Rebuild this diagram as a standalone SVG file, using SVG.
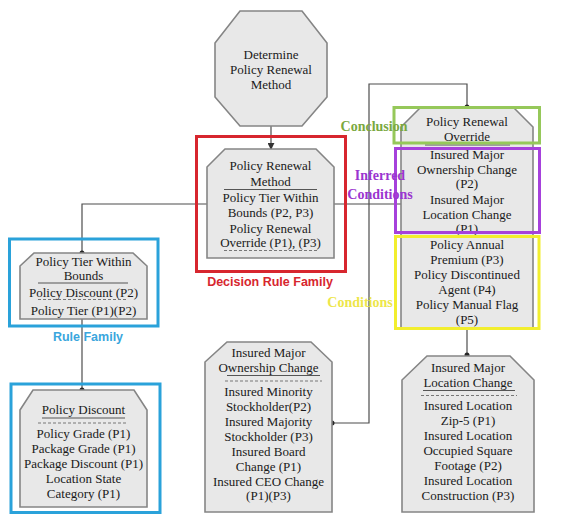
<svg xmlns="http://www.w3.org/2000/svg" width="563" height="516" viewBox="0 0 563 516">
<style>
.node{fill:#e8e8e8;stroke:#858585;stroke-width:1.6}
.t{font-family:"Liberation Serif",serif;font-size:13px;fill:#1a1a1a;text-anchor:middle}
.ul{stroke:#555;stroke-width:1.2}
.dash{stroke:#777;stroke-width:1;stroke-dasharray:3,2}
.conn{fill:none;stroke:#4d4d4d;stroke-width:1.2}
.dot{fill:#262626}
.lab{font-family:"Liberation Serif",serif;font-size:14px;font-weight:bold;text-anchor:middle}
.sans{font-family:"Liberation Sans",Arial,sans-serif;font-size:12.5px;font-weight:bold;text-anchor:middle}
.hl{fill:none;stroke-width:3}
</style>
<defs>
<marker id="arr" viewBox="0 0 8 8" refX="7" refY="4" markerWidth="7" markerHeight="7" orient="auto" markerUnits="userSpaceOnUse">
<path d="M0,0 L8,4 L0,8 z" fill="#333"/>
</marker>
</defs>
<rect width="563" height="516" fill="#ffffff"/>

<g id="connectors">
<line class="conn" x1="271" y1="126" x2="271" y2="149" marker-end="url(#arr)"/>
<polyline class="conn" points="207,204 82,204 82,253"/>
<line class="conn" x1="82" y1="319" x2="82" y2="390"/>
<line class="conn" x1="334" y1="204" x2="401" y2="204"/>
<polyline class="conn" points="467,107 467,84 369,84 369,423 332,423"/>
<line class="conn" x1="467" y1="328" x2="467" y2="356"/>
<circle class="dot" cx="82" cy="253" r="2.5"/>
<circle class="dot" cx="82" cy="390" r="2.5"/>
<circle class="dot" cx="467" cy="107" r="2.5"/>
<circle class="dot" cx="332" cy="423" r="2.5"/>
<circle class="dot" cx="467" cy="355" r="2.5"/>
</g>

<g id="n-determine">
<polygon class="node" points="240,11 302,11 327,43 327,97 302,126 240,126 215,97 215,43"/>
<text class="t" x="271" y="59">Determine</text>
<text class="t" x="271" y="74">Policy Renewal</text>
<text class="t" x="271" y="89">Method</text>
</g>

<g id="n-policy-renewal-method">
<polygon class="node" points="207,167 225,149 316,149 334,167 334,258 207,258"/>
<text class="t" x="270.5" y="170">Policy Renewal</text>
<text class="t" x="270.5" y="186">Method</text>
<line class="ul" x1="224" y1="189.5" x2="317" y2="189.5"/>
<text class="t" x="270.5" y="202">Policy Tier Within</text>
<text class="t" x="270.5" y="217">Bounds (P2, P3)</text>
<text class="t" x="270.5" y="233">Policy Renewal</text>
<text class="t" x="270.5" y="247">Override (P1), (P3)</text>
<line class="dash" x1="224" y1="250.5" x2="317" y2="250.5"/>
</g>

<g id="n-policy-tier">
<polygon class="node" points="20,266 34,253 133,253 147,266 147,319 20,319"/>
<text class="t" x="83.5" y="266">Policy Tier Within</text>
<text class="t" x="83.5" y="280">Bounds</text>
<line class="ul" x1="38" y1="283" x2="128" y2="283"/>
<text class="t" x="83.5" y="297">Policy Discount (P2)</text>
<line class="dash" x1="38" y1="299.5" x2="128" y2="299.5"/>
<text class="t" x="83.5" y="315">Policy Tier (P1)(P2)</text>
</g>

<g id="n-policy-discount">
<polygon class="node" points="20,410 33,390 134,390 147,410 147,507 20,507"/>
<text class="t" x="83.5" y="414">Policy Discount</text>
<line class="ul" x1="42" y1="418" x2="125" y2="418"/>
<line class="dash" x1="38" y1="423" x2="128" y2="423"/>
<text class="t" x="83.5" y="438">Policy Grade (P1)</text>
<text class="t" x="83.5" y="453">Package Grade (P1)</text>
<text class="t" x="83.5" y="468">Package Discount (P1)</text>
<text class="t" x="83.5" y="483">Location State</text>
<text class="t" x="83.5" y="498">Category (P1)</text>
</g>

<g id="n-policy-renewal-override">
<polygon class="node" points="401,127 421,107 513,107 533,127 533,328 401,328"/>
<text class="t" x="467" y="126">Policy Renewal</text>
<text class="t" x="467" y="141">Override</text>
<line class="ul" x1="425" y1="145" x2="510" y2="145" stroke-width="1.6"/>
<text class="t" x="467" y="159">Insured Major</text>
<text class="t" x="467" y="174">Ownership Change</text>
<text class="t" x="467" y="188">(P2)</text>
<text class="t" x="467" y="204">Insured Major</text>
<text class="t" x="467" y="219">Location Change</text>
<text class="t" x="467" y="233">(P1)</text>
<text class="t" x="467" y="249">Policy Annual</text>
<text class="t" x="467" y="264">Premium (P3)</text>
<text class="t" x="467" y="279">Policy Discontinued</text>
<text class="t" x="467" y="294">Agent (P4)</text>
<text class="t" x="467" y="309">Policy Manual Flag</text>
<text class="t" x="467" y="324">(P5)</text>
</g>

<g id="n-ownership-change">
<polygon class="node" points="205,362 227,342 311,342 332,362 332,512 205,512"/>
<text class="t" x="268.5" y="357">Insured Major</text>
<text class="t" x="268.5" y="372">Ownership Change</text>
<line class="ul" x1="227" y1="375.5" x2="320" y2="375.5"/>
<line class="dash" x1="225" y1="381" x2="322" y2="381"/>
<text class="t" x="268.5" y="396">Insured Minority</text>
<text class="t" x="268.5" y="411">Stockholder(P2)</text>
<text class="t" x="268.5" y="426">Insured Majority</text>
<text class="t" x="268.5" y="441">Stockholder (P3)</text>
<text class="t" x="268.5" y="456">Insured Board</text>
<text class="t" x="268.5" y="471">Change (P1)</text>
<text class="t" x="268.5" y="486">Insured CEO Change</text>
<text class="t" x="268.5" y="500">(P1)(P3)</text>
</g>

<g id="n-location-change">
<polygon class="node" points="402,380 427,356 510,356 534,380 534,512 402,512"/>
<text class="t" x="468" y="372">Insured Major</text>
<text class="t" x="468" y="387">Location Change</text>
<line class="ul" x1="423" y1="390.5" x2="515" y2="390.5"/>
<line class="dash" x1="421" y1="395.5" x2="517" y2="395.5"/>
<text class="t" x="468" y="410">Insured Location</text>
<text class="t" x="468" y="425">Zip-5 (P1)</text>
<text class="t" x="468" y="440">Insured Location</text>
<text class="t" x="468" y="455">Occupied Square</text>
<text class="t" x="468" y="470">Footage (P2)</text>
<text class="t" x="468" y="485">Insured Location</text>
<text class="t" x="468" y="500">Construction (P3)</text>
</g>

<g id="annotations">
<rect class="hl" x="196.5" y="136.5" width="149" height="135" stroke="#d7262e"/>
<text class="sans" x="270" y="286" fill="#d7262e">Decision Rule Family</text>
<rect class="hl" x="9.5" y="239" width="148.5" height="87" stroke="#2aa2da"/>
<text class="sans" x="88" y="341" fill="#3aa6dd">Rule Family</text>
<rect class="hl" x="11" y="384" width="149" height="128.5" stroke="#2aa2da"/>
<rect class="hl" x="394" y="107.5" width="145.5" height="35.5" stroke="#96c85a" stroke-width="2.5"/>
<text class="lab" x="374" y="131" fill="#7aa83f">Conclusion</text>
<rect class="hl" x="395.5" y="148.5" width="144" height="84" stroke="#a641dc" stroke-width="2.5"/>
<text class="lab" x="380" y="180" fill="#9b35cf">Inferred</text>
<text class="lab" x="380" y="199" fill="#9b35cf">Conditions</text>
<rect class="hl" x="395.5" y="236.5" width="143.5" height="92" stroke="#f2ee2e" stroke-width="2.5"/>
<text class="lab" x="360" y="307" fill="#ede64a">Conditions</text>
</g>
</svg>
